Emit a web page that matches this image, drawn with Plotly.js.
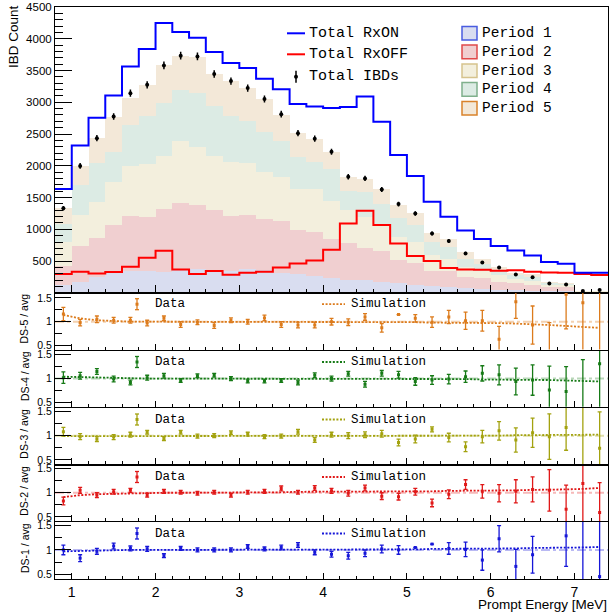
<!DOCTYPE html>
<html><head><meta charset="utf-8">
<script src="https://cdn.plot.ly/plotly-3.0.1.min.js"></script>
<style>html,body{margin:0;padding:0;background:#fff}#chart{width:612px;height:612px}</style>
</head><body><div id="chart"></div>
<script>
// ---------------- data ----------------
const energy = [0.9,1.1,1.3,1.5,1.7,1.9,2.1,2.3,2.5,2.7,2.9,3.1,3.3,3.5,3.7,3.9,4.1,4.3,4.5,4.7,4.9,5.1,5.3,5.5,5.7,5.9,6.1,6.3,6.5,6.7,6.9,7.1,7.3];

const rxOn  = [1635,2318,2755,3107,3564,3838,4248,4106,4017,3791,3617,3539,3370,3207,2973,2933,2908,2924,3091,2692,2170,1839,1434,1198,983,846,738,667,589,484,458,318,318];
const rxOff = [295,331,306,326,410,552,662,369,295,342,284,315,331,400,460,510,678,1093,1292,1066,778,578,500,392,368,365,347,355,331,321,315,295,279];
const ibd    = [1331,1998,2435,2776,3144,3275,3580,3733,3722,3444,3334,3223,3050,2813,2514,2427,2220,1827,1801,1628,1397,1250,935,814,620,479,400,290,247,148,132,27,43];
const ibdErr = [36,45,49,53,56,57,60,61,61,59,58,57,55,53,50,49,47,43,42,40,37,35,31,29,25,22,20,17,16,12,11,5,7];

const period1 = [130,174,245,305,340,347,328,380,378,335,347,369,358,315,295,270,227,205,195,174,148,121,100,90,70,60,45,40,32,28,25,12,12];
const period2 = [285,563,615,763,870,842,987,1038,1005,963,858,854,812,815,688,687,615,575,505,491,372,349,250,250,182,167,129,108,89,67,65,8,8];
const period3 = [380,488,575,677,790,847,843,979,919,858,848,818,735,695,657,683,608,520,500,415,360,330,250,200,148,123,106,72,69,35,30,5,5];
const period4 = [288,465,606,479,645,751,823,789,842,788,734,671,629,572,505,426,500,300,380,320,300,270,200,180,140,110,70,60,60,30,20,5,5];
const period5 = [248,308,399,552,425,488,599,547,571,501,553,511,516,403,375,353,274,229,208,230,203,190,137,122,97,70,60,35,50,14,20,5,5];
const periodNames = ['Period 1','Period 2','Period 3','Period 4','Period 5'];

const ds5    = [1.16,0.98,1.05,1.03,1.03,0.97,1.07,0.94,0.99,0.92,1.03,1.00,1.08,0.94,0.93,0.93,1.00,0.99,1.10,0.87,1.15,1.07,0.99,1.10,1.02,1.02,0.63,1.42,0.93,0.35,1.58,1.40,1.75];
const ds5err = [0.14,0.07,0.07,0.06,0.06,0.06,0.05,0.06,0.05,0.06,0.05,0.05,0.06,0.06,0.06,0.06,0.07,0.07,0.07,0.09,0,0.08,0.11,0.14,0.18,0.22,0.27,0.35,0.40,0.63,0.73,1.10,1.40];
const sim5   = [1.14,1.07,1.03,1.01,1.00,1.00,1.00,1.00,1.00,1.00,1.00,1.00,1.00,1.00,1.00,0.99,0.99,0.99,0.99,0.99,0.99,0.99,0.98,0.98,0.98,0.98,0.97,0.96,0.95,0.93,0.91,0.89,0.87];

const ds4    = [1.02,1.06,1.15,0.99,0.92,1.02,1.06,0.96,1.06,1.07,1.00,0.95,0.95,0.96,0.92,1.07,1.00,1.10,0.88,1.11,1.08,0.94,0.97,0.99,1.04,1.11,1.08,0.94,0.97,0.76,0.73,0.30,1.31];
const ds4err = [0.12,0.07,0.06,0.06,0.05,0.05,0.05,0.04,0.04,0.04,0.04,0.04,0.04,0.04,0.05,0.05,0.05,0.05,0.06,0.06,0.07,0.08,0.09,0.10,0.12,0.16,0.21,0.28,0.32,0.50,0.52,1.10,1.00];
const sim4   = [1.04,1.03,1.02,1.01,1.01,1.00,1.00,1.00,1.00,1.00,1.00,1.00,1.00,1.00,1.00,1.00,1.00,1.00,1.00,1.00,1.00,0.99,0.99,0.99,0.99,0.98,0.98,0.98,0.97,0.97,0.96,0.95,0.94];

const ds3    = [1.08,0.98,0.93,0.97,1.02,1.07,0.94,1.07,0.99,1.00,1.06,1.03,0.98,0.99,1.08,0.91,1.02,1.00,1.02,1.04,0.86,0.93,1.13,0.96,0.77,0.98,1.10,0.91,1.06,0.98,1.17,1.75,0.74];
const ds3err = [0.09,0.06,0.05,0.05,0.05,0.04,0.04,0.04,0.04,0.04,0.04,0.04,0.04,0.04,0.05,0.05,0.05,0.06,0.06,0.07,0.07,0.08,0.05,0.09,0.10,0.13,0.19,0.25,0.30,0.47,0.47,1.50,0.75];
const sim3   = [0.99,0.99,1.00,1.00,1.00,1.00,1.00,1.00,1.00,1.00,1.00,1.00,1.00,1.00,1.00,1.00,1.00,1.00,1.00,1.00,1.00,1.00,1.00,1.00,1.00,1.00,1.00,1.01,1.01,1.01,1.01,1.02,1.02];

const ds2    = [0.83,1.05,0.95,1.02,1.05,0.95,1.03,1.01,0.99,1.01,0.95,1.01,1.03,1.09,1.01,1.10,1.04,0.99,1.10,0.93,0.92,1.02,0.79,0.97,1.17,1.03,0.99,1.03,1.07,1.05,0.66,1.19,0.59];
const ds2err = [0.08,0.06,0.05,0.05,0.04,0.04,0.04,0.04,0.04,0.04,0.04,0.04,0.04,0.05,0.04,0.05,0.05,0.06,0.06,0.07,0.07,0.07,0.08,0.09,0.10,0.14,0.18,0.24,0.26,0.43,0.50,1.00,0.62];
const sim2   = [0.91,0.95,0.97,0.98,0.99,0.99,1.00,1.00,1.00,1.00,1.01,1.01,1.01,1.01,1.02,1.02,1.02,1.02,1.03,1.03,1.03,1.03,1.03,1.04,1.04,1.04,1.05,1.05,1.06,1.06,1.07,1.08,1.10];

const ds1    = [1.00,0.83,0.97,1.08,1.03,1.02,0.88,1.03,1.00,1.00,1.00,1.07,1.02,1.05,1.10,0.95,0.91,0.88,0.93,1.02,1.00,1.05,1.12,1.03,1.01,0.79,1.23,0.66,0.90,null,1.29,0.20,0.45];
const ds1err = [0.10,0.07,0.06,0.06,0.05,0.05,0.04,0.04,0.04,0.04,0.04,0.04,0.04,0.05,0.05,0.05,0.06,0.07,0.07,0.08,0.09,0,0,0.12,0.15,0.21,0.27,0.35,0.38,0,0.63,1.50,1.20];
const sim1   = [0.97,0.98,0.99,0.99,1.00,1.00,1.00,1.00,1.00,1.00,1.00,1.00,1.00,1.00,1.00,1.00,1.00,1.00,1.00,1.01,1.01,1.01,1.02,1.02,1.02,1.03,1.03,1.03,1.04,1.04,1.05,1.05,1.06];

const ratioTickVals = [0.5, 1, 1.5];
const ratioTickText = ['0.5', '1', '1.5'];
const topLegendNames = ['Total RxON', 'Total RxOFF', 'Total IBDs'];

// ---------------- layout helpers ----------------
const L = 55, R = 608, T = 7, B = 579;
const px = x => (x - L) / (R - L);
const py = y => (B - y) / (B - T);
const binHalf = 0.1;
const stepX = c => { const xs = c.map(v => v - binHalf); xs.push(c[c.length - 1] + binHalf); return xs; };
const stepY = v => { const ys = v.slice(); ys.push(v[v.length - 1]); return ys; };

const SANS = 'Liberation Sans, Arial, sans-serif';
const MONO = 'Liberation Mono, Courier New, monospace';
const DOTS = '2px,1.6px';

const periodFill = ['#d9ddf0', '#f0cfd0', '#f3efdd', '#dcebe4', '#f3e8d8'];
const periodEdge = ['#4a5ce0', '#e04a4a', '#d6c38d', '#7fb08c', '#d9822b'];
const periods = [period1, period2, period3, period4, period5];

const traces = [];
periods.forEach((p, i) => {
  traces.push({type: 'bar', x: energy, y: p, width: 0.2, name: periodNames[i],
    marker: {color: periodFill[i], line: {width: 0}}, xaxis: 'x', yaxis: 'y', hoverinfo: 'skip'});
});
traces.push({type: 'scatter', mode: 'lines', x: stepX(energy), y: stepY(rxOff), line: {color: '#ff0000', width: 2, shape: 'hv'}, xaxis: 'x', yaxis: 'y', name: topLegendNames[1]});
traces.push({type: 'scatter', mode: 'lines', x: stepX(energy), y: stepY(rxOn), line: {color: '#0000ff', width: 2, shape: 'hv'}, xaxis: 'x', yaxis: 'y', name: topLegendNames[0]});
traces.push({type: 'scatter', mode: 'markers', x: energy, y: ibd, marker: {color: '#000', size: 4},
  error_y: {type: 'data', array: ibdErr, visible: true, color: '#000', thickness: 1.5, width: 0}, xaxis: 'x', yaxis: 'y', name: topLegendNames[2]});

const panels = [
  {label: 'DS-5 / avg', vals: ds5, err: ds5err, sim: sim5, color: '#dc7b1c', faint: 'rgba(220,123,28,0.35)', n: 2, top: 292.7, bot: 349.5, range: [0.415, 1.61]},
  {label: 'DS-4 / avg', vals: ds4, err: ds4err, sim: sim4, color: '#167a16', faint: 'rgba(22,122,22,0.3)', n: 3, top: 350.5, bot: 406.7, range: [0.41, 1.59]},
  {label: 'DS-3 / avg', vals: ds3, err: ds3err, sim: sim3, color: '#a3a20f', faint: 'rgba(163,162,15,0.35)', n: 4, top: 408.0, bot: 464.3, range: [0.41, 1.57]},
  {label: 'DS-2 / avg', vals: ds2, err: ds2err, sim: sim2, color: '#e01818', faint: 'rgba(224,24,24,0.3)', n: 5, top: 465.5, bot: 521.0, range: [0.415, 1.565]},
  {label: 'DS-1 / avg', vals: ds1, err: ds1err, sim: sim1, color: '#1616d8', faint: 'rgba(22,22,216,0.3)', n: 6, top: 522.0, bot: 579.0, range: [0.40, 1.575]}
];

const axisBase = {showline: true, mirror: true, linecolor: '#000', linewidth: 1, ticks: 'inside', tickcolor: '#000', tickwidth: 1, showgrid: false, zeroline: false};

const layout = {
  width: 612, height: 612,
  margin: {l: L, r: 612 - R, t: T, b: 612 - B, pad: 0},
  paper_bgcolor: '#fff', plot_bgcolor: '#fff',
  showlegend: false, barmode: 'stack', bargap: 0,
  font: {family: SANS, color: '#000'},
  xaxis: Object.assign({}, axisBase, {domain: [0, 1], anchor: 'y', range: [0.8, 7.4], tickmode: 'linear', tick0: 0, dtick: 1, ticklen: 8, showticklabels: false,
    minor: {tickmode: 'linear', tick0: 0, dtick: 0.2, ticklen: 4, ticks: 'inside', tickcolor: '#000'}}),
  yaxis: Object.assign({}, axisBase, {domain: [py(292.7), 1], anchor: 'x', range: [2, 4500], tickmode: 'linear', tick0: 0, dtick: 500, ticklen: 17,
    tickfont: {family: SANS, size: 11.5}, minor: {tickmode: 'linear', tick0: 0, dtick: 100, ticklen: 8, ticks: 'inside', tickcolor: '#000'}}),
  shapes: [], annotations: []
};

panels.forEach(p => {
  const xa = 'x' + p.n, ya = 'y' + p.n;
  layout['xaxis' + p.n] = Object.assign({}, axisBase, {domain: [0, 1], anchor: ya, range: [0.8, 7.4], tickmode: 'linear', tick0: 0, dtick: 1, ticklen: 6,
    showticklabels: p.n === 6, tickfont: {family: SANS, size: 14},
    minor: {tickmode: 'linear', tick0: 0, dtick: 0.2, ticklen: 3, ticks: 'inside', tickcolor: '#000'}});
  layout['yaxis' + p.n] = Object.assign({}, axisBase, {domain: [py(p.bot), py(p.top)], anchor: xa, range: p.range, tickmode: 'array',
    tickvals: ratioTickVals, ticktext: ratioTickText, ticklen: 16, tickfont: {family: SANS, size: 10.5},
    minor: {tickmode: 'linear', tick0: 0, dtick: 0.25, ticklen: 7, ticks: 'inside', tickcolor: '#000'}});
  layout.shapes.push({type: 'line', xref: 'paper', yref: ya, x0: 0, x1: 1, y0: 1, y1: 1, line: {color: p.faint, width: 2, dash: 'dashdot'}, layer: 'below'});
  traces.push({type: 'scatter', mode: 'lines', x: energy, y: p.sim, line: {color: p.color, width: 1.8, dash: DOTS}, xaxis: xa, yaxis: ya, name: 'Simulation'});
  traces.push({type: 'scatter', mode: 'markers', x: energy, y: p.vals, marker: {color: p.color, size: 3, symbol: 'square'},
    error_y: {type: 'data', array: p.err, visible: true, color: p.color, thickness: 1.3, width: 2}, xaxis: xa, yaxis: ya, name: 'Data'});
  layout.annotations.push({xref: 'paper', yref: 'paper', x: px(24.5), y: py((p.top + p.bot) / 2 - 2), text: p.label, textangle: -90,
    showarrow: false, xanchor: 'center', yanchor: 'middle', font: {family: SANS, size: 10.5}});
  const ly = p.top + 11.5;
  layout.shapes.push({type: 'line', xref: 'paper', yref: 'paper', x0: px(137), x1: px(137), y0: py(ly - 5.5), y1: py(ly + 5.5), line: {color: p.color, width: 1.3}});
  layout.shapes.push({type: 'line', xref: 'paper', yref: 'paper', x0: px(135), x1: px(139), y0: py(ly - 5.5), y1: py(ly - 5.5), line: {color: p.color, width: 1.3}});
  layout.shapes.push({type: 'line', xref: 'paper', yref: 'paper', x0: px(135), x1: px(139), y0: py(ly + 5.5), y1: py(ly + 5.5), line: {color: p.color, width: 1.3}});
  layout.shapes.push({type: 'rect', xref: 'paper', yref: 'paper', x0: px(135.5), x1: px(138.5), y0: py(ly - 1.5), y1: py(ly + 1.5), fillcolor: p.color, line: {width: 0}});
  layout.annotations.push({xref: 'paper', yref: 'paper', x: px(153), y: py(ly), text: 'Data', showarrow: false, xanchor: 'left', yanchor: 'middle', font: {family: MONO, size: 12.5}});
  layout.shapes.push({type: 'line', xref: 'paper', yref: 'paper', x0: px(322), x1: px(345), y0: py(ly), y1: py(ly), line: {color: p.color, width: 1.8, dash: DOTS}});
  layout.annotations.push({xref: 'paper', yref: 'paper', x: px(349), y: py(ly), text: 'Simulation', showarrow: false, xanchor: 'left', yanchor: 'middle', font: {family: MONO, size: 12.5}});
});

layout.annotations.push({xref: 'paper', yref: 'paper', x: px(14), y: py(37), text: 'IBD Count', textangle: -90, showarrow: false,
  xanchor: 'center', yanchor: 'middle', font: {family: SANS, size: 13.5}});
layout.annotations.push({xref: 'paper', yref: 'paper', x: px(609), y: py(604.5), text: 'Prompt Energy [MeV]', showarrow: false,
  xanchor: 'right', yanchor: 'middle', font: {family: SANS, size: 13.5}});

const topRows = [33.3, 54.3, 76.7];
layout.shapes.push({type: 'line', xref: 'paper', yref: 'paper', x0: px(287), x1: px(305), y0: py(topRows[0]), y1: py(topRows[0]), line: {color: '#0000ff', width: 2}});
layout.shapes.push({type: 'line', xref: 'paper', yref: 'paper', x0: px(287), x1: px(305), y0: py(topRows[1]), y1: py(topRows[1]), line: {color: '#ff0000', width: 2}});
layout.shapes.push({type: 'line', xref: 'paper', yref: 'paper', x0: px(296), x1: px(296), y0: py(topRows[2] - 6), y1: py(topRows[2] + 6), line: {color: '#000', width: 1.5}});
layout.shapes.push({type: 'circle', xref: 'paper', yref: 'paper', x0: px(294), x1: px(298), y0: py(topRows[2] - 2), y1: py(topRows[2] + 2), fillcolor: '#000', line: {width: 0}});
topLegendNames.forEach((t, i) => {
  layout.annotations.push({xref: 'paper', yref: 'paper', x: px(307), y: py(topRows[i]), text: t, showarrow: false, xanchor: 'left', yanchor: 'middle', font: {family: MONO, size: 15}});
});

const perRows = [33.3, 51.9, 70.7, 89.4, 108.3];
periodNames.forEach((t, i) => {
  layout.shapes.push({type: 'rect', xref: 'paper', yref: 'paper', x0: px(462), x1: px(477), y0: py(perRows[i] + 6.8), y1: py(perRows[i] - 6.8),
    fillcolor: periodFill[i], line: {color: periodEdge[i], width: 1.5}});
  layout.annotations.push({xref: 'paper', yref: 'paper', x: px(479.5), y: py(perRows[i]), text: t, showarrow: false, xanchor: 'left', yanchor: 'middle', font: {family: MONO, size: 14.5}});
});

Plotly.newPlot('chart', traces, layout, {staticPlot: true, displayModeBar: false});
</script>
</body></html>
